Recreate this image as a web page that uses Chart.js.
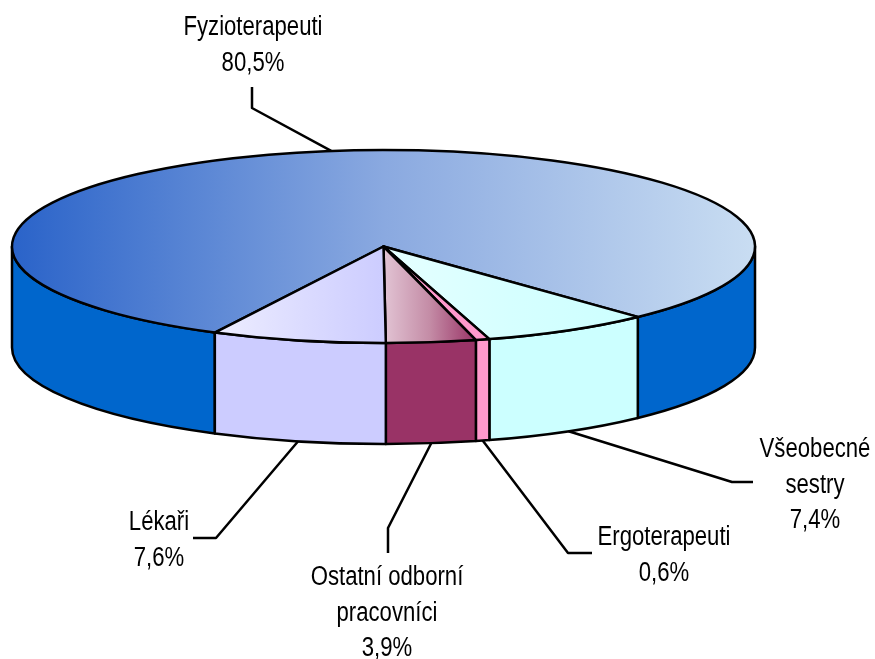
<!DOCTYPE html>
<html>
<head>
<meta charset="utf-8">
<script src="https://cdn.jsdelivr.net/npm/chart.js@4/dist/chart.umd.min.js"></script>
<style>
  body { margin: 0; background: #fff; }
</style>
</head>
<body>
<canvas id="pieChart" width="875" height="659"></canvas>
<script>
// slices in clockwise order, starting at the left edge of Fyzioterapeuti
const categories = ['Fyzioterapeuti', 'Všeobecné sestry', 'Ergoterapeuti', 'Ostatní odborní pracovníci', 'Lékaři'];
const shares = [80.5, 7.4, 0.6, 3.9, 7.6];
const labelLines = [['Fyzioterapeuti'], ['Všeobecné', 'sestry'], ['Ergoterapeuti'], ['Ostatní odborní', 'pracovníci'], ['Lékaři']];

const topColors = [
  ['#2a63c9', '#8aa9e0', '#c9ddf2'],
  ['#e6ffff', '#d6ffff', '#ccffff'],
  ['#ff99cc', '#ff99cc', '#ff99cc'],
  ['#e2c4d4', '#c48ca6', '#993366'],
  ['#eeeeff', '#dcdcff', '#ccccff']
];
const sideColors = ['#0066cc', '#ccffff', '#ff99cc', '#993366', '#ccccff'];

const tilt = 0.26;
const depth = 101;

// leader line elbows / ends and text anchor (centre x, first baseline)
const labelLayout = [
  { elbow: [252, 108], end: [252, 87], text: [253, 35] },
  { elbow: [732, 482], end: [753, 482], text: [815, 457] },
  { elbow: [568, 553], end: [592, 553], text: [664, 545] },
  { elbow: [388, 528], end: [388, 553], text: [387, 585] },
  { elbow: [216, 538], end: [193, 538], text: [159, 530] }
];
const lineHeight = 35.5;
const labelFont = '27px "Liberation Sans", Arial, sans-serif';
const narrow = 0.82;

const pie3d = {
  id: 'pie3d',
  beforeDatasetsDraw(chart) {
    const ctx = chart.ctx;
    const arcs = chart.getDatasetMeta(0).data;
    const cx = arcs[0].x, cy = arcs[0].y, rx = arcs[0].outerRadius, ry = rx * tilt;

    ctx.save();
    ctx.lineWidth = 2.5;
    ctx.strokeStyle = '#000';
    ctx.lineJoin = 'round';

    // side walls (only the front half is visible)
    arcs.forEach((arc, i) => {
      for (let k = -1; k <= 2; k++) {
        const a1 = Math.max(arc.startAngle, 2 * Math.PI * k);
        const a2 = Math.min(arc.endAngle, 2 * Math.PI * k + Math.PI);
        if (a2 <= a1) continue;
        ctx.beginPath();
        ctx.ellipse(cx, cy, rx, ry, 0, a1, a2, false);
        ctx.ellipse(cx, cy + depth, rx, ry, 0, a2, a1, true);
        ctx.closePath();
        ctx.fillStyle = sideColors[i];
        ctx.fill();
        ctx.stroke();
      }
    });

    // top faces
    arcs.forEach((arc, i) => {
      let minX = cx, maxX = cx;
      for (let a = arc.startAngle; a <= arc.endAngle; a += 0.01) {
        const x = cx + rx * Math.cos(a);
        minX = Math.min(minX, x);
        maxX = Math.max(maxX, x);
      }
      const xe = cx + rx * Math.cos(arc.endAngle);
      minX = Math.min(minX, xe);
      maxX = Math.max(maxX, xe);
      const grad = ctx.createLinearGradient(minX, 0, maxX, 0);
      grad.addColorStop(0, topColors[i][0]);
      grad.addColorStop(0.5, topColors[i][1]);
      grad.addColorStop(1, topColors[i][2]);
      ctx.beginPath();
      ctx.moveTo(cx, cy);
      ctx.ellipse(cx, cy, rx, ry, 0, arc.startAngle, arc.endAngle, false);
      ctx.closePath();
      ctx.fillStyle = grad;
      ctx.fill();
      ctx.stroke();
    });

    // labels with leader lines
    ctx.font = labelFont;
    ctx.fillStyle = '#000';
    ctx.textAlign = 'center';
    ctx.textBaseline = 'alphabetic';
    arcs.forEach((arc, i) => {
      const mid = (arc.startAngle + arc.endAngle) / 2;
      const front = Math.sin(mid) > 0;
      const ax = cx + rx * Math.cos(mid);
      const ay = cy + ry * Math.sin(mid) + (front ? depth : 0);
      const lay = labelLayout[i];
      ctx.beginPath();
      ctx.moveTo(ax, ay);
      ctx.lineTo(lay.elbow[0], lay.elbow[1]);
      ctx.lineTo(lay.end[0], lay.end[1]);
      ctx.stroke();

      const lines = labelLines[i].concat([shares[i].toFixed(1).replace('.', ',') + '%']);
      lines.forEach((t, j) => {
        ctx.save();
        ctx.translate(lay.text[0], lay.text[1] + j * lineHeight);
        ctx.scale(narrow, 1);
        ctx.fillText(t, 0, 0);
        ctx.restore();
      });
    });

    ctx.restore();
    return false;
  }
};

new Chart(document.getElementById('pieChart'), {
  type: 'pie',
  data: {
    labels: categories,
    datasets: [{
      data: shares,
      backgroundColor: sideColors,
      borderWidth: 0
    }]
  },
  options: {
    responsive: false,
    animation: false,
    events: [],
    rotation: 207,
    radius: 371.5,
    layout: {
      padding: { left: 0, top: 0, right: 108, bottom: 166 }
    },
    plugins: {
      legend: { display: false },
      tooltip: { enabled: false }
    }
  },
  plugins: [pie3d]
});
</script>
</body>
</html>
